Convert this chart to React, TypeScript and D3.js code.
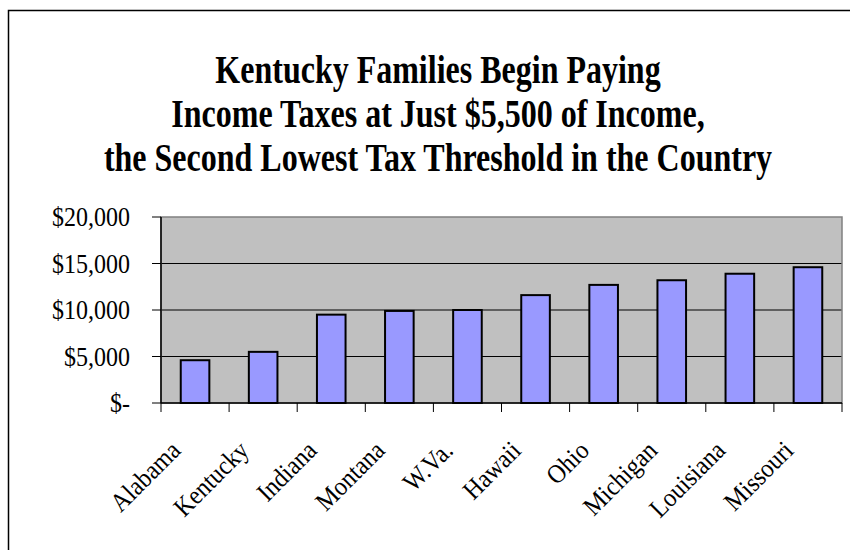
import * as d3 from 'd3';

const WIDTH = 850;
const HEIGHT = 550;

const states = ['Alabama', 'Kentucky', 'Indiana', 'Montana', 'W.Va.', 'Hawaii', 'Ohio', 'Michigan', 'Louisiana', 'Missouri'];
const thresholds = [4600, 5500, 9500, 9900, 10000, 11600, 12700, 13200, 13900, 14600];
const yTicks = [0, 5000, 10000, 15000, 20000];
const titleLines = [
  'Kentucky Families Begin Paying',
  'Income Taxes at Just $5,500 of Income,',
  'the Second Lowest Tax Threshold in the Country',
];

const plot = {left: 161, right: 842, top: 217, bottom: 403};
const serif = '"Liberation Serif", "Times New Roman", Times, serif';

const fmt = (v: number) => (v === 0 ? '$-' : '$' + d3.format(',')(v));

function App() {
  const x = d3.scaleBand<string>().domain(states).range([plot.left, plot.right]).padding(0);
  const y = d3.scaleLinear().domain([0, 20000]).range([plot.bottom, plot.top]);
  const barW = x.bandwidth() * 0.42;
  const boundaries = [...states.map((s) => x(s)!), plot.right];

  return (
    <svg
      width={WIDTH}
      height={HEIGHT}
      style={{position: 'absolute', left: 0, top: 0, background: '#fff'}}
      fontFamily={serif}
    >
      <rect x={8.5} y={10.5} width={900} height={600} fill="#fff" stroke="#000" strokeWidth={1.5} />

      {/* title glyphs in the original are a bit taller than wide */}
      {titleLines.map((t, i) => (
        <text
          key={i}
          transform={`translate(438,${83 + i * 44}) scale(1,1.25)`}
          textAnchor="middle"
          fontSize={32}
          fontWeight="bold"
        >
          {t}
        </text>
      ))}

      <rect x={plot.left} y={plot.top} width={plot.right - plot.left} height={plot.bottom - plot.top} fill="#c0c0c0" />

      {yTicks.slice(1, -1).map((t) => (
        <line key={t} x1={plot.left} x2={plot.right} y1={y(t)} y2={y(t)} stroke="#000" strokeWidth={1} />
      ))}

      <rect
        x={plot.left}
        y={plot.top}
        width={plot.right - plot.left}
        height={plot.bottom - plot.top}
        fill="none"
        stroke="#808080"
        strokeWidth={1.5}
      />

      {states.map((s, i) => (
        <rect
          key={s}
          x={x(s)! + (x.bandwidth() - barW) / 2}
          y={y(thresholds[i])}
          width={barW}
          height={plot.bottom - y(thresholds[i])}
          fill="#9999ff"
          stroke="#000"
          strokeWidth={2}
        />
      ))}

      <line x1={plot.left} x2={plot.left} y1={plot.top} y2={plot.bottom} stroke="#000" strokeWidth={1.5} />
      <line x1={plot.left} x2={plot.right} y1={plot.bottom} y2={plot.bottom} stroke="#000" strokeWidth={1.5} />

      {yTicks.map((t) => (
        <g key={t}>
          <line x1={plot.left - 9} x2={plot.left} y1={y(t)} y2={y(t)} stroke="#000" strokeWidth={1} />
          <text transform={`translate(130,${y(t)}) scale(1,1.1)`} dy="0.35em" textAnchor="end" fontSize={24}>
            {fmt(t)}
          </text>
        </g>
      ))}

      {boundaries.map((b, i) => (
        <line key={i} x1={b} x2={b} y1={plot.bottom} y2={plot.bottom + 9} stroke="#000" strokeWidth={1} />
      ))}

      {states.map((s) => {
        const cx = x(s)! + x.bandwidth() / 2;
        return (
          <text
            key={s}
            transform={`translate(${cx - 13},452) rotate(-45) scale(1,1.1)`}
            textAnchor="end"
            fontSize={24}
          >
            {s}
          </text>
        );
      })}
    </svg>
  );
}

export default App;
